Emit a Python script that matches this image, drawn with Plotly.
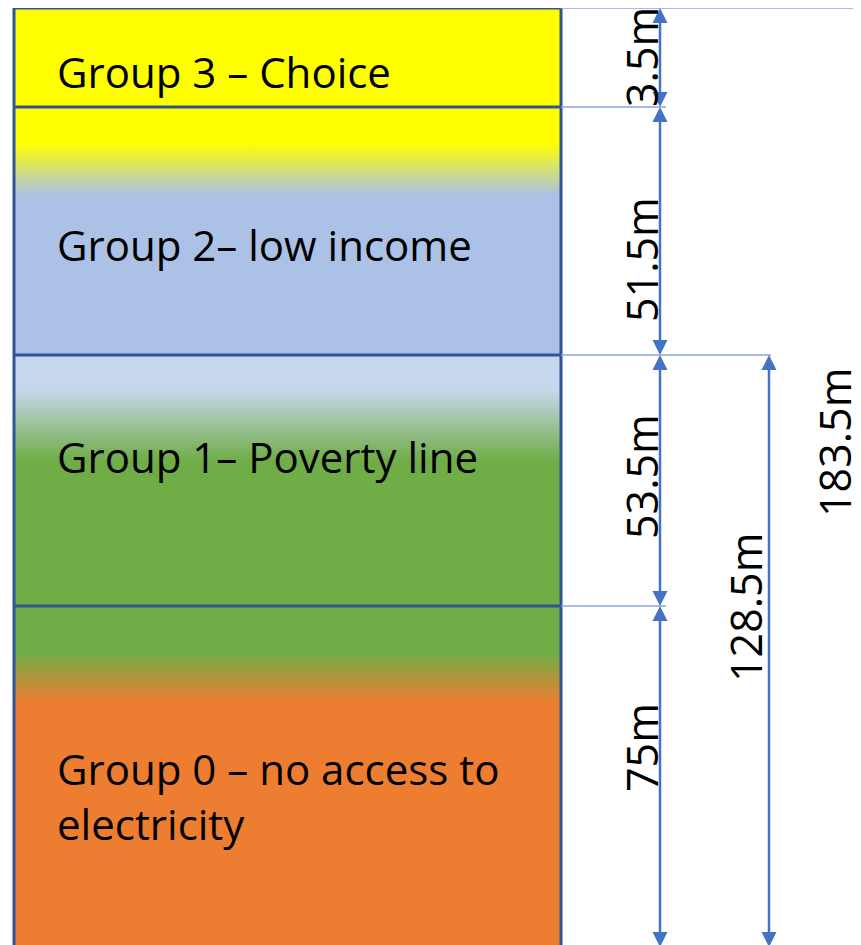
import plotly.graph_objects as go

# ---- data ----
group_labels = [
    "Group 3 – Choice",
    "Group 2– low income",
    "Group 1– Poverty line",
    "Group 0 – no access to<br>electricity",
]
group_values_m = [3.5, 51.5, 53.5, 75]          # millions, top to bottom
# cumulative spans (from bottom): groups 0+1, and all groups
span_bottom_two = group_values_m[3] + group_values_m[2]   # 128.5
span_all = sum(group_values_m)                              # 183.5

# ---- layout (schematic, page-pixel units) ----
W, H = 861, 945
PAGE_OFF = 8   # default body margin of the html page
band_edges = [8, 107, 355, 606, 965]
rect_x0, rect_x1 = 14, 561
col_each, col_two, col_all = 660, 769, 862
text_x = 55
text_y = [71, 244, 456, 796]
label_y = [57, 260, 477, 748]

YELLOW = "#FFFF00"
BLUE2 = "#ABC1E5"
BLUE1 = "#C6D6EC"
GREEN = "#70AD47"
ORANGE = "#ED7D31"
BORDER = "#2F5597"
ARROW = "#4472C4"
THIN = "#8AA6DB"

band_scales = [
    [[0, YELLOW], [1, YELLOW]],
    [[0, YELLOW], [0.145, YELLOW], [0.355, BLUE2], [1, BLUE2]],
    [[0, BLUE1], [0.14, BLUE1], [0.42, GREEN], [1, GREEN]],
    [[0, GREEN], [0.13, GREEN], [0.27, ORANGE], [1, ORANGE]],
]

fig = go.Figure()

for i in range(4):
    y0, y1 = band_edges[i], band_edges[i + 1]
    fig.add_trace(go.Scatter(
        x=[rect_x0, rect_x1, rect_x1, rect_x0, rect_x0],
        y=[y0, y0, y1, y1, y0],
        mode="lines", line=dict(width=0), fill="toself",
        fillgradient=dict(type="vertical", colorscale=band_scales[i],
                          start=y0, stop=y1),
        hoverinfo="skip", showlegend=False,
    ))

shapes = []
# outer border
shapes.append(dict(type="rect", x0=rect_x0, x1=rect_x1, y0=band_edges[0], y1=band_edges[-1],
                   line=dict(color=BORDER, width=3), fillcolor="rgba(0,0,0,0)", layer="above"))
# separators
for y in band_edges[1:4]:
    shapes.append(dict(type="line", x0=rect_x0, x1=rect_x1, y0=y, y1=y,
                       line=dict(color=BORDER, width=3), layer="above"))
# thin extension lines
ext_ends = [W + 5, col_each + 6, col_two + 2, col_each + 6]
for y, xe in zip(band_edges[:4], ext_ends):
    shapes.append(dict(type="line", x0=rect_x1, x1=xe, y0=y, y1=y,
                       line=dict(color=THIN, width=1.5), layer="above"))

HEAD_H, HEAD_W = 15, 7.5
def add_arrow(x, top, bottom):
    shapes.append(dict(type="line", x0=x, x1=x, y0=top + HEAD_H - 1, y1=bottom - HEAD_H + 1,
                       line=dict(color=ARROW, width=2.5)))
    shapes.append(dict(type="path",
                       path=f"M {x - HEAD_W},{top + HEAD_H} L {x + HEAD_W},{top + HEAD_H} L {x},{top} Z",
                       fillcolor=ARROW, line=dict(width=0)))
    shapes.append(dict(type="path",
                       path=f"M {x - HEAD_W},{bottom - HEAD_H} L {x + HEAD_W},{bottom - HEAD_H} L {x},{bottom} Z",
                       fillcolor=ARROW, line=dict(width=0)))

arrow_bottom = 947
for i in range(4):
    top = band_edges[i]
    bot = band_edges[i + 1] if i < 3 else arrow_bottom
    add_arrow(col_each, top, bot)
add_arrow(col_two, band_edges[2], arrow_bottom)
add_arrow(col_all, band_edges[0], arrow_bottom)

annotations = []
FONT = "Open Sans, Noto Sans, sans-serif"
for lab, ty in zip(group_labels, text_y):
    annotations.append(dict(x=text_x, y=ty, text=lab, showarrow=False, xanchor="left",
                            yanchor="middle", align="left",
                            font=dict(family=FONT, size=42, color="black")))

def fmt(v):
    return f"{v:g}m"

for v, ly in zip(group_values_m, label_y):
    annotations.append(dict(x=col_each - 19, y=ly, text=fmt(v), textangle=-90, showarrow=False,
                            xanchor="center", yanchor="middle",
                            font=dict(family=FONT, size=43, color="black")))
annotations.append(dict(x=col_two - 24, y=608, text=fmt(span_bottom_two), textangle=-90,
                        showarrow=False, xanchor="center", yanchor="middle",
                        font=dict(family=FONT, size=43, color="black")))
annotations.append(dict(x=col_all - 28, y=443, text=fmt(span_all), textangle=-90,
                        showarrow=False, xanchor="center", yanchor="middle",
                        font=dict(family=FONT, size=43, color="black")))

fig.update_layout(
    width=W, height=H,
    margin=dict(l=0, r=0, t=0, b=0),
    paper_bgcolor="white", plot_bgcolor="white",
    xaxis=dict(range=[PAGE_OFF, W + PAGE_OFF], visible=False, fixedrange=True),
    yaxis=dict(range=[H + PAGE_OFF, PAGE_OFF], visible=False, fixedrange=True),
    shapes=shapes, annotations=annotations,
    showlegend=False,
)

fig.write_html("out.html")
